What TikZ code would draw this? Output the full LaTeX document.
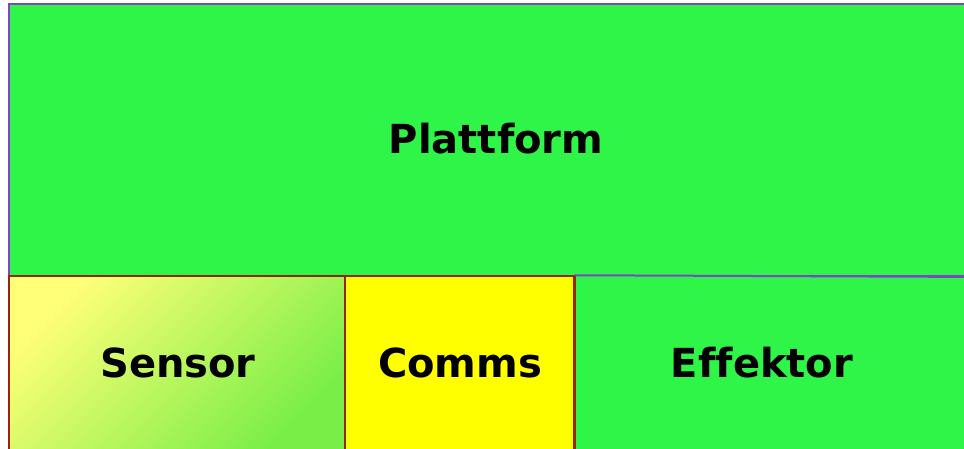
\documentclass[tikz,border=0pt]{standalone}
\usepackage{fontspec}
\setmainfont[Ligatures=NoCommon]{DejaVu Sans}
\definecolor{platgreen}{RGB}{46,245,72}
\definecolor{commsyellow}{RGB}{255,255,0}
\definecolor{edgepurple}{RGB}{125,70,200}
\definecolor{edgered}{RGB}{150,35,20}
\definecolor{sensyellow}{RGB}{255,255,120}
\definecolor{sensgreen}{RGB}{120,238,70}
\tikzset{
  block/.style={rectangle,inner sep=0pt},
  blocktext/.style={inner sep=0pt,anchor=base,font=\fontsize{40}{46}\selectfont\bfseries}
}

\begin{document}
\begin{tikzpicture}[x=1pt,y=1pt]
\useasboundingbox (0,0) rectangle (964,449);
\fill[white] (0,0) rectangle (964,449);

% top block
\node[block,fill=platgreen,draw=edgepurple,line width=2pt,minimum width=976pt,minimum height=272pt](plattform) at (497,309) {};
\node[blocktext](plattformtext) at (496,295) {Plattform};

% bottom row
\node[block,left color=sensyellow,right color=sensgreen,shading angle=45,draw=edgered,line width=1.5pt,minimum width=336pt,minimum height=175pt](sensor) at (177,85.5) {};
\node[block,fill=commsyellow,draw=edgered,line width=1.5pt,minimum width=229pt,minimum height=175pt](comms) at (459.5,85.5) {};
\node[block,fill=platgreen,minimum width=410pt,minimum height=175pt](effektorbox) at (780,85.5) {};
\node[blocktext](sensortext) at (178,71) {Sensor};
\node[blocktext](commstext) at (460,71) {Comms};
\node[blocktext](effektor) at (762,71) {Effektor};

% redraw the shared edge
\draw[edgered,line width=1.5pt] (comms.north east) -- (comms.south east);
\draw[edgepurple,line width=2pt] (comms.north east) -- (plattform.south east);
\end{tikzpicture}
\end{document}
